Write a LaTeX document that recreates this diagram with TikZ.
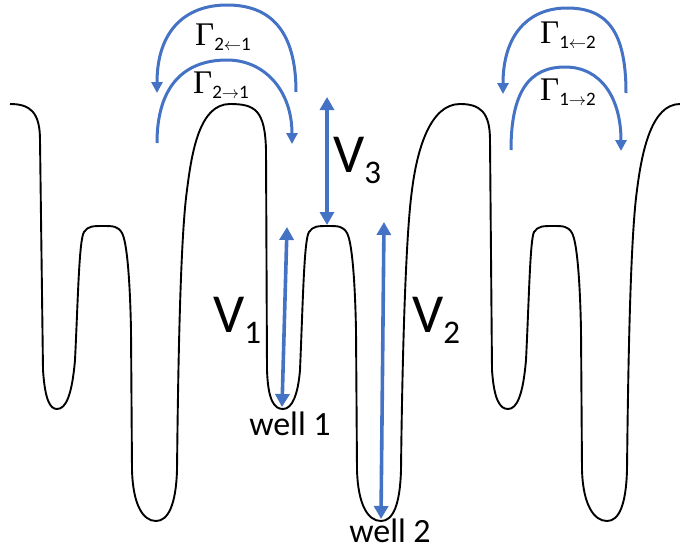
\documentclass[tikz,border=0pt]{standalone}
\usepackage{fontspec}
\setmainfont{Carlito}
\newfontfamily\gamfont{Liberation Serif}
\usepackage{xcolor}
\usetikzlibrary{arrows.meta, positioning}
\definecolor{rateblue}{RGB}{68,114,196}
\newcommand\gammalab[1]{{\gamfont\fontsize{33}{33}\selectfont Γ}{\fontsize{19}{19}\selectfont\raisebox{-5pt}{#1}}}
\newcommand\vlab[1]{{\fontsize{55}{55}\selectfont V}{\fontsize{33}{33}\selectfont\raisebox{-11pt}{#1}}}

\begin{document}
\begin{tikzpicture}[
    x=1pt,
    y=-1pt,
    pot/.style={line width=1.9pt,black,line join=round},
    rate/.style={line width=3pt,rateblue,-{Triangle[length=11pt,width=11pt]}},
    gap/.style={line width=3.6pt,rateblue,{Triangle[length=13pt,width=14pt]}-{Triangle[length=13pt,width=14pt]}},
    lab/.style={inner sep=0pt,font=\fontsize{34}{34}\selectfont},
    sym/.style={inner sep=0pt,anchor=base west}
  ]
    \useasboundingbox (0,0) rectangle (680,550);
    % potential landscape, three periods
    \draw[pot] (10,104) .. controls (30,104) and (40,112) .. (40,140)
        -- (43,370) .. controls (45,400) and (50,409) .. (57,409)
        .. controls (66,409) and (72,395) .. (75,360)
        .. controls (78,300) and (79,240) .. (84,232)
        .. controls (88,226) and (93,226) .. (103,226)
        .. controls (113,226) and (118,226) .. (122,233)
        .. controls (127,242) and (130,280) .. (131,330)
        -- (132,470) .. controls (133,505) and (143,521) .. (156,521)
        .. controls (168,521) and (176,505) .. (177,470)
        .. controls (178,380) and (180,240) .. (187,190)
        .. controls (192,150) and (200,104) .. (230,104)
        .. controls (255,104) and (265,110) .. (266,150)
        -- (267,370) .. controls (268,400) and (274,409) .. (283,409)
        .. controls (292,409) and (298,395) .. (300,370)
        .. controls (303,300) and (304,240) .. (309,232)
        .. controls (313,226) and (318,226) .. (328,226)
        .. controls (338,226) and (343,226) .. (347,233)
        .. controls (352,242) and (355,280) .. (356,330)
        -- (357,470) .. controls (358,505) and (368,521) .. (381,521)
        .. controls (393,521) and (400,505) .. (401,470)
        .. controls (402,380) and (405,240) .. (412,190)
        .. controls (417,150) and (430,104) .. (460,104)
        .. controls (480,104) and (490,112) .. (490,140)
        -- (492,370) .. controls (494,400) and (500,409) .. (508,409)
        .. controls (517,409) and (523,395) .. (526,360)
        .. controls (529,300) and (530,240) .. (534,232)
        .. controls (538,226) and (543,226) .. (553,226)
        .. controls (563,226) and (568,226) .. (572,233)
        .. controls (577,242) and (580,280) .. (581,330)
        -- (582,470) .. controls (583,505) and (594,521) .. (607,521)
        .. controls (619,521) and (626,505) .. (627,470)
        .. controls (628,380) and (630,240) .. (637,190)
        .. controls (642,150) and (652,104) .. (680,104);

    % barrier heights
    \coordinate (w1) at (282,407);
    \coordinate (w1up) at (287,227);
    \coordinate (w2) at (381,519);
    \coordinate (w2up) at (384,222);
    \coordinate (topb) at (327,97);
    \coordinate (midb) at (327,225);
    \draw[gap] (w1) -- (w1up);
    \draw[gap] (w2) -- (w2up);
    \draw[gap] (topb) -- (midb);
    \node[sym] (v1) at (213,332) {\vlab{1}};
    \node[sym] (v2) at (412,332) {\vlab{2}};
    \node[sym] (v3) at (333,172) {\vlab{3}};
    \node[lab,anchor=base] (well1) at (290,435) {well 1};
    \node[lab,anchor=base] (well2) at (390,542) {well 2};

    % hopping rates
    \coordinate (a21s) at (296,92);
    \coordinate (a21t) at (227,5);
    \coordinate (a21e) at (157,93);
    \coordinate (b21s) at (157,143);
    \coordinate (b21t) at (227,60);
    \coordinate (b21e) at (292,144);
    \coordinate (a12s) at (626,93);
    \coordinate (a12t) at (567,8);
    \coordinate (a12e) at (503,94);
    \coordinate (b12s) at (511,150);
    \coordinate (b12t) at (565,67);
    \coordinate (b12e) at (621,151);
    \draw[rate] (a21s) .. controls +(0,-62) and +(43,0) .. (a21t)
        .. controls +(-42,0) and +(0,-62) .. (a21e);
    \draw[rate] (b21s) .. controls +(0,-58) and +(-42,0) .. (b21t)
        .. controls +(38,0) and +(0,-53) .. (b21e);
    \draw[rate] (a12s) .. controls +(0,-62) and +(40,0) .. (a12t)
        .. controls +(-38,0) and +(0,-60) .. (a12e);
    \draw[rate] (b12s) .. controls +(0,-58) and +(-36,0) .. (b12t)
        .. controls +(36,0) and +(0,-53) .. (b12e);
    \node[sym] (g21) at (195,45) {\gammalab{2$\leftarrow$1}};
    \node[sym] (h21) at (193,93) {\gammalab{2$\rightarrow$1}};
    \node[sym] (g12) at (540,43) {\gammalab{1$\leftarrow$2}};
    \node[sym] (h12) at (540,100) {\gammalab{1$\rightarrow$2}};
\end{tikzpicture}
\end{document}
